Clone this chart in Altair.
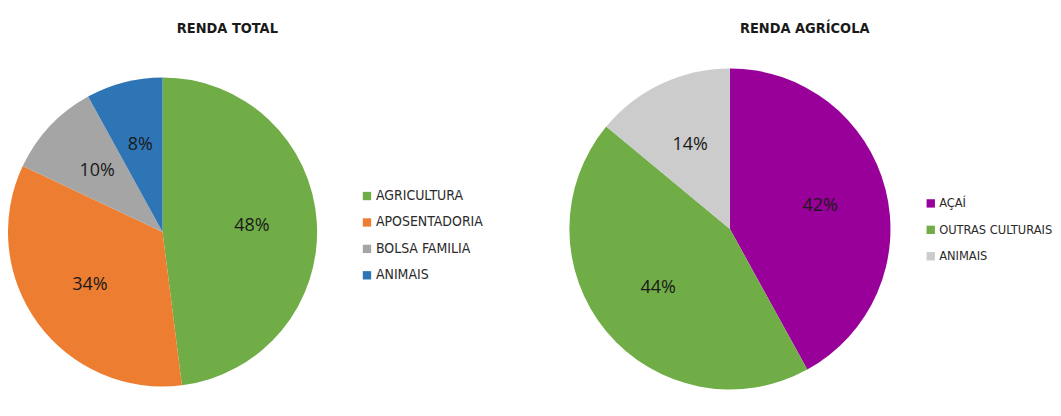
import altair as alt
import pandas as pd

total_cats = ["AGRICULTURA", "APOSENTADORIA", "BOLSA FAMILIA", "ANIMAIS"]
total_vals = [48, 34, 10, 8]
total_colors = ["#70AD47", "#ED7D31", "#A5A5A5", "#2E75B6"]

agri_cats = ["AÇAÍ", "OUTRAS CULTURAIS", "ANIMAIS"]
agri_vals = [42, 44, 14]
agri_colors = ["#990099", "#70AD47", "#CCCCCC"]

LABEL_FONT = "DejaVu Sans Condensed"
PCT_FONT = "Open Sans"


def pie(cats, vals, colors, title, cx, cy, R, tx, lx, ly, w, h, lfs):
    df = pd.DataFrame({
        "cat": cats,
        "val": vals,
        "idx": list(range(len(cats))),
        "label": [f"{v}%" for v in vals],
    })
    base = alt.Chart(df).encode(
        theta=alt.Theta("val:Q", stack=True),
        order=alt.Order("idx:Q"),
    )
    arc = base.mark_arc(outerRadius=R).encode(
        x=alt.value(cx),
        y=alt.value(cy),
        color=alt.Color(
            "cat:N",
            scale=alt.Scale(domain=cats, range=colors),
            legend=alt.Legend(
                title=None,
                orient="none",
                legendX=lx,
                legendY=ly,
                padding=0,
                symbolType="square",
                symbolSize=70,
                symbolStrokeWidth=0,
                symbolOpacity=1,
                labelFont=LABEL_FONT,
                labelFontSize=lfs,
                labelColor="#2a2a2a",
                labelOffset=2,
                rowPadding=12.5,
            ),
        ),
    )
    text = base.mark_text(
        radius=R * 0.58, fontSize=18, font=PCT_FONT, color="#1a1a1a"
    ).encode(x=alt.value(cx), y=alt.value(cy), text="label:N")
    ttl = alt.Chart(pd.DataFrame({"t": [title]})).mark_text(
        font=LABEL_FONT, fontSize=14.5, fontWeight="bold", color="#1a1a1a"
    ).encode(x=alt.value(tx), y=alt.value(20), text="t:N")
    return alt.layer(arc, text, ttl).properties(width=w, height=h)


c1 = pie(total_cats, total_vals, total_colors, "RENDA TOTAL",
         155, 224, 155, 220, 353, 181, 530, 400, 14)
c2 = pie(agri_cats, agri_vals, agri_colors, "RENDA AGRÍCOLA",
         194, 221, 161, 269, 389, 189, 515, 400, 12.8)

chart = (
    alt.hconcat(c1, c2, spacing=0)
    .resolve_scale(color="independent")
    .properties(padding=0)
    .configure_view(stroke=None)
)

chart.save("out.html", embed_options={"renderer": "svg", "actions": False})
